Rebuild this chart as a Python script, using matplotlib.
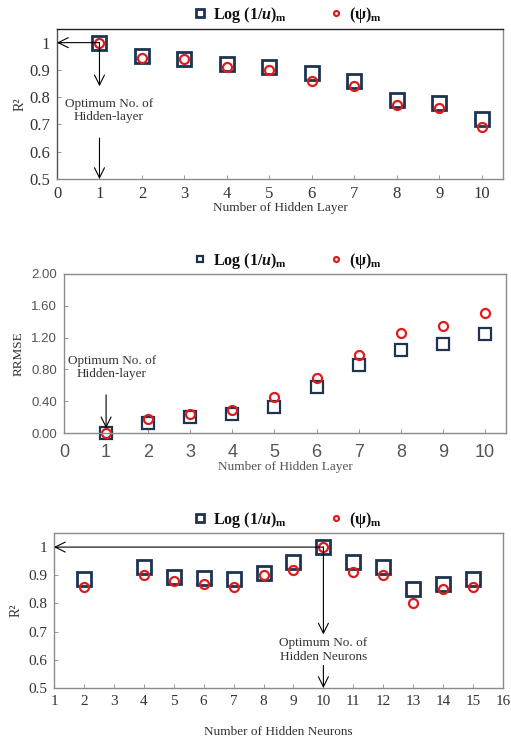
import matplotlib
matplotlib.use("Agg")
import matplotlib.pyplot as plt
from matplotlib.ticker import FormatStrFormatter

plt.rcParams['font.family'] = ['Liberation Serif', 'DejaVu Serif']
plt.rcParams['mathtext.fontset'] = 'custom'
plt.rcParams['mathtext.rm'] = 'Liberation Serif:bold'
plt.rcParams['mathtext.it'] = 'Liberation Serif:italic:bold'

# panel 1: R2 vs number of hidden layers
layers = [1, 2, 3, 4, 5, 6, 7, 8, 9, 10]
r2_log_layer = [1.0, 0.95, 0.94, 0.92, 0.91, 0.89, 0.86, 0.79, 0.78, 0.72]
r2_psi_layer = [1.0, 0.945, 0.94, 0.91, 0.90, 0.86, 0.84, 0.77, 0.76, 0.69]

# panel 2: RRMSE vs number of hidden layers
rrmse_log_layer = [0.0, 0.12, 0.20, 0.245, 0.33, 0.58, 0.855, 1.05, 1.12, 1.25]
rrmse_psi_layer = [0.0, 0.18, 0.235, 0.29, 0.455, 0.695, 0.98, 1.255, 1.34, 1.51]

# panel 3: R2 vs number of hidden neurons
neurons = [2, 4, 5, 6, 7, 8, 9, 10, 11, 12, 13, 14, 15]
r2_log_neuron = [0.888, 0.93, 0.893, 0.89, 0.887, 0.908, 0.948, 1.0, 0.948, 0.93, 0.85, 0.868, 0.888]
r2_psi_neuron = [0.86, 0.90, 0.88, 0.87, 0.86, 0.90, 0.92, 1.0, 0.91, 0.90, 0.80, 0.85, 0.86]

lbl_log = r'Log (1/$\it{u}$)$_{\rm m}$'
lbl_psi = r'(ψ)$_{\rm m}$'

navy = '#1e3350'
red = '#e01b1b'
txt = '#333333'
W, H = 511, 740

fig = plt.figure(figsize=(W / 100, H / 100), dpi=100)


def make_ax(l, r, t, b):
    return fig.add_axes([l / W, 1 - b / H, (r - l) / W, (b - t) / H])


def style(ax, size, top_dark=False):
    for s in ax.spines.values():
        s.set_color('#8a8a8a')
        s.set_linewidth(1.0)
    if top_dark:
        ax.spines['top'].set_color('#222222')
        ax.spines['left'].set_color('#555555')
    ax.tick_params(direction='in', length=3, width=0.6, color='#8a8a8a',
                   labelsize=size, labelcolor=txt, pad=5)


def draw(ax, x, ys, yc, sq, ci, lw):
    ax.plot(x, ys, 's', ms=sq, mfc='white', mec=navy, mew=lw, label=lbl_log, clip_on=False)
    ax.plot(x, yc, 'o', ms=ci, mfc='none', mec=red, mew=1.6, label=lbl_psi, clip_on=False)


def legend(ax, y):
    leg = ax.legend(loc='center', bbox_to_anchor=(287 / W, 1 - y / H), bbox_transform=fig.transFigure,
                    ncol=2, frameon=False, fontsize=11.5, columnspacing=2.6, handletextpad=0.3,
                    handlelength=1.0, markerscale=0.55)
    for t in leg.get_texts():
        t.set_fontweight('bold')
        t.set_color('#111111')


arrow = dict(arrowstyle='->', color='black', lw=0.8, mutation_scale=18, shrinkA=0, shrinkB=0)

# ---- panel 1
ax1 = make_ax(57, 503, 29, 179)
draw(ax1, layers, r2_log_layer, r2_psi_layer, 10, 6.5, 2.0)
ax1.set_xlim(0, 10.5)
ax1.set_ylim(0.5, 1.05)
ax1.set_xticks(range(0, 11))
ax1.set_yticks([0.5, 0.6, 0.7, 0.8, 0.9, 1.0])
ax1.yaxis.set_major_formatter(FormatStrFormatter('%g'))
style(ax1, 12, top_dark=True)
ax1.set_xlabel('Number of Hidden Layer', fontsize=9.5, labelpad=0, color=txt)
ax1.set_ylabel('R²', fontsize=10, labelpad=2, color=txt)
ax1.annotate('', xy=(0, 1.0), xytext=(1, 1.0), arrowprops=arrow)
ax1.annotate('', xy=(1, 0.84), xytext=(1, 1.0), arrowprops=arrow)
ax1.annotate('', xy=(1, 0.5), xytext=(1, 0.65), arrowprops=arrow, annotation_clip=False)
ax1.text(1.22, 0.75, 'Optimum No. of\nHidden-layer', ha='center', va='center', fontsize=9.5,
         color=txt, linespacing=1.15)
legend(ax1, 15)

# ---- panel 2
ax2 = make_ax(64, 506, 274, 433)
draw(ax2, layers, rrmse_log_layer, rrmse_psi_layer, 9, 6.5, 1.6)
ax2.set_xlim(0, 10.5)
ax2.set_ylim(0, 2.0)
ax2.set_xticks(range(0, 11))
ax2.set_yticks([0, 0.4, 0.8, 1.2, 1.6, 2.0])
ax2.yaxis.set_major_formatter(FormatStrFormatter('%.2f'))
style(ax2, 9.5)
ax2.tick_params(axis='x', labelsize=13, pad=8)
for t in ax2.get_xticklabels() + ax2.get_yticklabels():
    t.set_fontfamily('Liberation Sans')
    t.set_color('#555555')
ax2.set_xlabel('Number of Hidden Layer', fontsize=9.5, labelpad=0, color='#555555')
ax2.set_ylabel('RRMSE', fontsize=9.5, labelpad=5, color=txt)
ax2.annotate('', xy=(1, 0.06), xytext=(1, 0.48), arrowprops=arrow)
ax2.text(1.14, 0.82, 'Optimum No. of\nHidden-layer', ha='center', va='center', fontsize=9.5,
         color=txt, linespacing=1.15)
legend(ax2, 261)

# ---- panel 3
ax3 = make_ax(54, 503, 533, 688)
draw(ax3, neurons, r2_log_neuron, r2_psi_neuron, 9.5, 6.5, 2.0)
ax3.set_xlim(1, 16)
ax3.set_ylim(0.5, 1.05)
ax3.set_xticks(range(1, 17))
ax3.set_yticks([0.5, 0.6, 0.7, 0.8, 0.9, 1.0])
ax3.yaxis.set_major_formatter(FormatStrFormatter('%g'))
style(ax3, 11)
ax3.set_xlabel('Number of Hidden Neurons', fontsize=9.5, labelpad=13, color=txt)
ax3.set_ylabel('R²', fontsize=10, labelpad=4, color=txt)
ax3.annotate('', xy=(1, 1.0), xytext=(10, 1.0), arrowprops=arrow)
ax3.annotate('', xy=(10, 0.69), xytext=(10, 1.0), arrowprops=arrow)
ax3.annotate('', xy=(10, 0.5), xytext=(10, 0.58), arrowprops=arrow, annotation_clip=False)
ax3.text(10, 0.635, 'Optimum No. of\nHidden Neurons', ha='center', va='center', fontsize=9.5,
         color=txt, linespacing=1.15)
legend(ax3, 520)

fig.savefig('out.png', dpi=100)
